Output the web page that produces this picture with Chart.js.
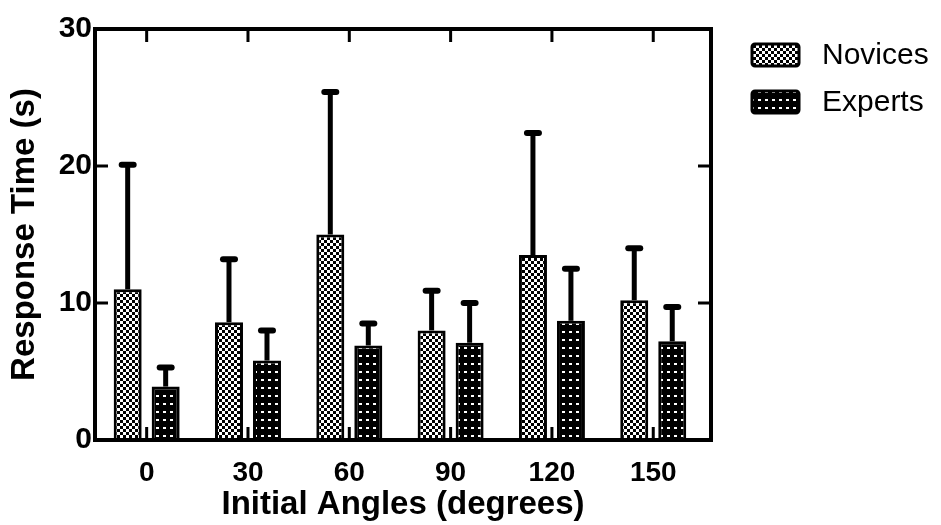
<!DOCTYPE html>
<html>
<head>
<meta charset="utf-8">
<script src="https://cdn.jsdelivr.net/npm/chart.js@4.4.1/dist/chart.umd.min.js"></script>
<style>
  body { margin: 0; background: #fff; }
  canvas { display: block; }
</style>
</head>
<body>
<canvas id="rtChart" width="941" height="525"></canvas>
<script>
// Values
const angles = ['0', '30', '60', '90', '120', '150'];
const yTicks = [0, 10, 20, 30];
const novicesMean = [11.0, 8.6, 15.0, 8.0, 13.5, 10.2];
const novicesSD = [9.1, 4.6, 10.4, 2.9, 8.9, 3.8];
const expertsMean = [3.9, 5.8, 6.9, 7.1, 8.7, 7.2];
const expertsSD = [1.4, 2.2, 1.6, 2.9, 3.8, 2.5];

const FONT = '"Liberation Sans", Arial, sans-serif';
const canvas = document.getElementById('rtChart');
const mainCtx = canvas.getContext('2d');

// 1. Fill patterns (checker for novices, dotted black for experts)
function makeChecker() {
    const tile = document.createElement('canvas');
    tile.width = 6; tile.height = 6;
    const g = tile.getContext('2d');
    g.fillStyle = '#fff';
    g.fillRect(0, 0, 6, 6);
    g.fillStyle = '#000';
    g.fillRect(0, 0, 3, 3);
    g.fillRect(3, 3, 3, 3);
    return mainCtx.createPattern(tile, 'repeat');
}

function makeDots() {
    const tile = document.createElement('canvas');
    tile.width = 7; tile.height = 8;
    const g = tile.getContext('2d');
    g.fillStyle = '#000';
    g.fillRect(0, 0, 7, 8);
    g.fillStyle = '#fff';
    g.fillRect(2, 3, 3, 2);
    return mainCtx.createPattern(tile, 'repeat');
}

// 2. Upper error bars with rounded caps
const errorBars = {
    id: 'errorBars',
    afterDatasetsDraw(chart) {
        const ctx = chart.ctx;
        const yScale = chart.scales.y;
        ctx.save();
        ctx.strokeStyle = '#000';
        chart.data.datasets.forEach((ds, d) => {
            chart.getDatasetMeta(d).data.forEach((bar, i) => {
                const top = yScale.getPixelForValue(ds.data[i].y + ds.errors[i]);
                ctx.lineCap = 'butt';
                ctx.lineWidth = 5;
                ctx.beginPath();
                ctx.moveTo(bar.x, bar.y);
                ctx.lineTo(bar.x, top);
                ctx.stroke();
                ctx.lineCap = 'round';
                ctx.lineWidth = 6;
                ctx.beginPath();
                ctx.moveTo(bar.x - 6, top);
                ctx.lineTo(bar.x + 6, top);
                ctx.stroke();
            });
        });
        ctx.restore();
    }
};

// 3. Box frame with inward ticks on all four sides
const frame = {
    id: 'frame',
    afterDraw(chart) {
        const ctx = chart.ctx;
        const a = chart.chartArea;
        const xScale = chart.scales.x;
        const yScale = chart.scales.y;
        ctx.save();
        ctx.strokeStyle = '#000';
        ctx.lineWidth = 3;
        ctx.beginPath();
        xScale.ticks.forEach((t, i) => {
            const px = xScale.getPixelForTick(i);
            ctx.moveTo(px, a.top);
            ctx.lineTo(px, a.top + 13);
            ctx.moveTo(px, a.bottom);
            ctx.lineTo(px, a.bottom - 13);
        });
        yTicks.forEach(v => {
            const py = yScale.getPixelForValue(v);
            ctx.moveTo(a.left, py);
            ctx.lineTo(a.left + 13, py);
            ctx.moveTo(a.right, py);
            ctx.lineTo(a.right - 13, py);
        });
        ctx.stroke();
        ctx.lineWidth = 4;
        ctx.strokeRect(a.left, a.top, a.right - a.left, a.bottom - a.top);
        ctx.restore();
    }
};

// 4. Legend on the right
const sideLegend = {
    id: 'sideLegend',
    afterDraw(chart) {
        const ctx = chart.ctx;
        const x0 = chart.chartArea.right + 41;
        ctx.save();
        chart.data.datasets.forEach((ds, i) => {
            const y0 = chart.chartArea.top + 15 + i * 47;
            ctx.beginPath();
            ctx.roundRect(x0, y0, 47, 22, 3);
            ctx.fillStyle = ds.backgroundColor;
            ctx.fill();
            ctx.lineWidth = 3;
            ctx.strokeStyle = '#000';
            ctx.stroke();
            ctx.fillStyle = '#000';
            ctx.font = '30px ' + FONT;
            ctx.textBaseline = 'middle';
            ctx.fillText(ds.label, x0 + 70, y0 + 12);
        });
        ctx.restore();
    }
};

const boldFont = size => ({ family: FONT, size: size, weight: 'bold' });

new Chart(mainCtx, {
    type: 'bar',
    data: {
        datasets: [
            {
                label: 'Novices',
                data: novicesMean.map((v, i) => ({ x: i, y: v })),
                errors: novicesSD,
                backgroundColor: makeChecker(),
                borderColor: '#000',
                borderWidth: 3
            },
            {
                label: 'Experts',
                data: expertsMean.map((v, i) => ({ x: i, y: v })),
                errors: expertsSD,
                backgroundColor: makeDots(),
                borderColor: '#000',
                borderWidth: 3
            }
        ]
    },
    options: {
        responsive: false,
        animation: false,
        layout: { padding: { top: 29, right: 230, bottom: 0, left: 0 } },
        datasets: { bar: { categoryPercentage: 0.75, barPercentage: 0.737 } },
        plugins: {
            legend: { display: false },
            tooltip: { enabled: false }
        },
        scales: {
            x: {
                type: 'linear',
                offset: false,
                min: -0.51,
                max: 5.57,
                grid: { display: false, drawTicks: false, offset: false },
                border: { display: false },
                afterBuildTicks: s => { s.ticks = angles.map((a, i) => ({ value: i })); },
                afterFit: s => { s.height = 85; },
                ticks: {
                    autoSkip: false,
                    maxRotation: 0,
                    color: '#000',
                    padding: 16,
                    font: boldFont(28),
                    callback: v => angles[v]
                },
                title: {
                    display: true,
                    text: 'Initial Angles (degrees)',
                    color: '#000',
                    font: boldFont(33),
                    padding: { top: 0, bottom: 0 }
                }
            },
            y: {
                min: 0,
                max: 30,
                grid: { display: false, drawTicks: false },
                border: { display: false },
                afterBuildTicks: s => { s.ticks = yTicks.map(v => ({ value: v })); },
                afterFit: s => { s.width = 95; },
                ticks: { color: '#000', padding: 3, font: boldFont(30) },
                title: {
                    display: true,
                    text: 'Response Time (s)',
                    color: '#000',
                    font: boldFont(33),
                    padding: { top: 5, bottom: 0 }
                }
            }
        }
    },
    plugins: [errorBars, frame, sideLegend]
});
</script>
</body>
</html>
